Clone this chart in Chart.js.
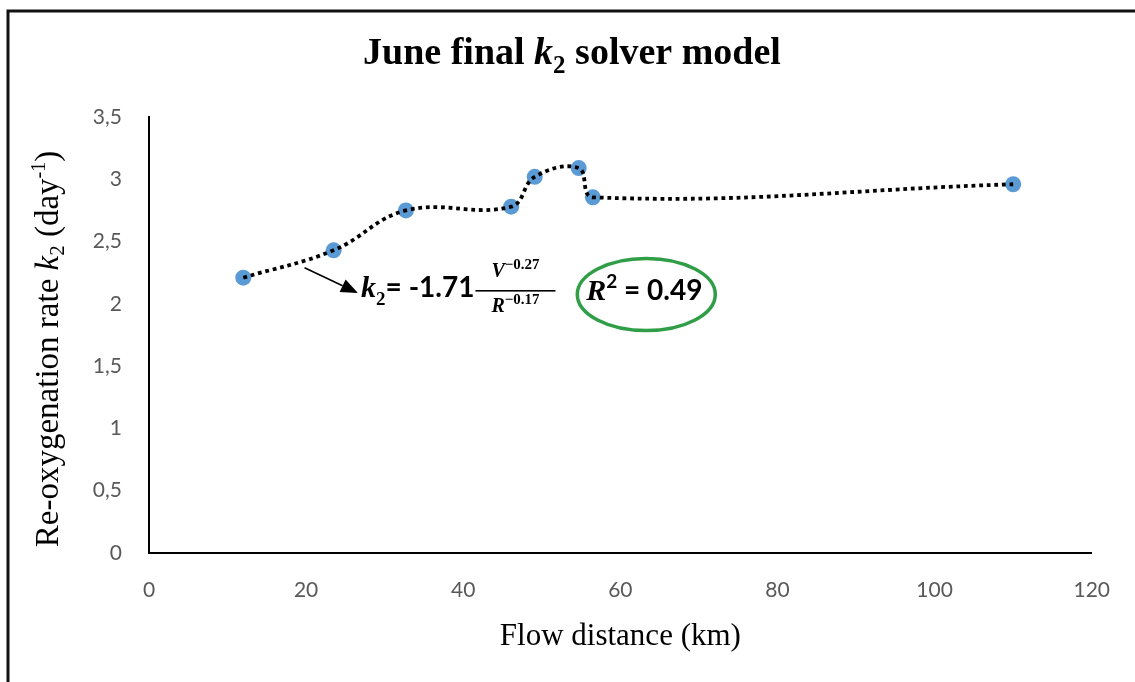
<!DOCTYPE html>
<html>
<head>
<meta charset="utf-8">
<script src="https://cdn.jsdelivr.net/npm/chart.js@4.4.0/dist/chart.umd.min.js"></script>
<style>
  html, body { margin: 0; padding: 0; background: #fff; }
  #wrap { width: 1135px; height: 682px; }
</style>
</head>
<body>
<div id="wrap"><canvas id="k2chart" width="1135" height="682"></canvas></div>
<script>
// June final k2 solver model — flow distance vs re-oxygenation rate

const distanceKm = [12.0, 23.5, 32.7, 46.1, 49.1, 54.7, 56.5, 110.0];
const k2Rate     = [2.21, 2.43, 2.75, 2.78, 3.02, 3.09, 2.855, 2.96];
const xRange = [0, 120];
const yRange = [0, 3.5];

// annotation anchors, in data units
const arrowFrom = { x: 19.8, y: 2.29 };
const arrowTo   = { x: 26.6, y: 2.087 };
const eqStart   = { x: 27.0, y: 2.055 };
const r2Centre  = { x: 63.3, y: 2.075 };

const SERIF = '"Liberation Serif", "Times New Roman", serif';
const SANS  = 'Lato, "Open Sans", sans-serif';

const points = distanceKm.map((x, i) => ({ x, y: k2Rate[i] }));

// draws a row of [text, font, dy] pieces, returns its width
function drawRuns(ctx, runs, x, y, align) {
  let w = 0;
  runs.forEach(r => { ctx.font = r[1]; w += ctx.measureText(r[0]).width; });
  let cx = align === 'center' ? x - w / 2 : x;
  runs.forEach(r => {
    ctx.font = r[1];
    ctx.fillText(r[0], cx, y + (r[2] || 0));
    cx += ctx.measureText(r[0]).width;
  });
  return w;
}

const framePlugin = {
  id: 'frame',
  beforeDraw(chart) {
    const ctx = chart.ctx;
    ctx.save();
    ctx.fillStyle = '#fff';
    ctx.fillRect(0, 0, chart.width, chart.height);
    ctx.strokeStyle = '#111';
    ctx.lineWidth = 3;
    ctx.beginPath();
    ctx.moveTo(8, chart.height);
    ctx.lineTo(8, 11);
    ctx.lineTo(chart.width, 11);
    ctx.stroke();
    ctx.restore();
  },
};

const textPlugin = {
  id: 'texts',
  afterDraw(chart) {
    const ctx = chart.ctx;
    const sx = chart.scales.x, sy = chart.scales.y;
    const px = p => [sx.getPixelForValue(p.x), sy.getPixelForValue(p.y)];
    ctx.save();
    ctx.fillStyle = '#000';
    ctx.textBaseline = 'alphabetic';

    // title
    drawRuns(ctx, [
      ['June final ', 'bold 38px ' + SERIF],
      ['k', 'italic bold 38px ' + SERIF],
      ['2', 'bold 25px ' + SERIF, 9],
      [' solver model', 'bold 38px ' + SERIF],
    ], 572, 64, 'center');

    // y axis title
    ctx.save();
    ctx.translate(58, 349);
    ctx.rotate(-Math.PI / 2);
    drawRuns(ctx, [
      ['Re-oxygenation rate ', '33px ' + SERIF],
      ['k', 'italic 33px ' + SERIF],
      ['2', '21px ' + SERIF, 6],
      [' (day', '33px ' + SERIF],
      ['-1', '20px ' + SERIF, -13],
      [')', '33px ' + SERIF],
    ], 0, 0, 'center');
    ctx.restore();

    // arrow to the formula
    const [ax0, ay0] = px(arrowFrom), [ax1, ay1] = px(arrowTo);
    const ang = Math.atan2(ay1 - ay0, ax1 - ax0);
    const hl = 17, hw = 14;
    ctx.strokeStyle = '#000';
    ctx.lineWidth = 1.5;
    ctx.beginPath();
    ctx.moveTo(ax0, ay0);
    ctx.lineTo(ax1 - hl * Math.cos(ang), ay1 - hl * Math.sin(ang));
    ctx.stroke();
    ctx.beginPath();
    ctx.moveTo(ax1, ay1);
    ctx.lineTo(ax1 - hl * Math.cos(ang) - hw / 2 * Math.sin(ang), ay1 - hl * Math.sin(ang) + hw / 2 * Math.cos(ang));
    ctx.lineTo(ax1 - hl * Math.cos(ang) + hw / 2 * Math.sin(ang), ay1 - hl * Math.sin(ang) - hw / 2 * Math.cos(ang));
    ctx.closePath();
    ctx.fill();

    // k2 = -1.71 V^-0.27 / R^-0.17
    const [ex, eb] = px(eqStart);
    let w = drawRuns(ctx, [
      ['k', 'italic bold 30px ' + SERIF],
      ['2', 'bold 19px ' + SERIF, 8],
      ['= -1.71', 'bold 28px ' + SANS],
    ], ex, eb);
    const fx0 = ex + w + 1, fx1 = fx0 + 80, fmid = (fx0 + fx1) / 2;
    ctx.fillRect(fx0, eb - 7, fx1 - fx0, 1.6);
    drawRuns(ctx, [
      ['V', 'italic bold 20px ' + SERIF],
      ['\u22120.27', 'bold 15px ' + SERIF, -8],
    ], fmid, eb - 20, 'center');
    drawRuns(ctx, [
      ['R', 'italic bold 20px ' + SERIF],
      ['\u22120.17', 'bold 15px ' + SERIF, -8],
    ], fmid, eb + 15, 'center');

    // R^2 = 0.49 in the green ring
    const [rx, ry] = px(r2Centre);
    drawRuns(ctx, [
      ['R', 'italic bold 30px ' + SERIF],
      ['2', 'bold 19px ' + SANS, -12],
      [' = 0.49', 'bold 28px ' + SANS],
    ], rx - 2, ry + 5, 'center');
    ctx.strokeStyle = '#2f9e47';
    ctx.lineWidth = 3.5;
    ctx.beginPath();
    ctx.ellipse(rx, ry, 69, 36, 0, 0, Math.PI * 2);
    ctx.stroke();

    ctx.restore();
  },
};

new Chart(document.getElementById('k2chart'), {
  type: 'scatter',
  data: {
    datasets: [
      {
        label: 'k2 trend',
        data: points,
        showLine: true,
        borderColor: '#000',
        borderWidth: 3.8,
        borderDash: [3.8, 3.8],
        tension: 0.4,
        pointRadius: 0,
        order: 1,
      },
      {
        label: 'k2',
        data: points,
        backgroundColor: '#5b9bd5',
        borderWidth: 0,
        pointRadius: 8,
        order: 2,
      },
    ],
  },
  options: {
    responsive: false,
    animation: false,
    devicePixelRatio: 1,
    layout: { padding: { top: 117, right: 42, left: 0, bottom: 0 } },
    plugins: { legend: { display: false }, tooltip: { enabled: false } },
    scales: {
      x: {
        type: 'linear',
        min: xRange[0], max: xRange[1],
        afterFit: s => { s.height = 129; },
        ticks: { stepSize: 20, color: '#595959', padding: 25, font: { family: SANS, size: 21 } },
        grid: { drawOnChartArea: false, drawTicks: false },
        border: { color: '#000', width: 2 },
        title: {
          display: true, text: 'Flow distance (km)', color: '#000',
          font: { family: SERIF, size: 31 }, padding: { top: 0, bottom: 27 },
        },
      },
      y: {
        min: yRange[0], max: yRange[1],
        afterFit: s => { s.width = 149; },
        ticks: {
          stepSize: 0.5, color: '#595959', padding: 27,
          font: { family: SANS, size: 21 },
          callback: v => String(v).replace('.', ','),
        },
        grid: { drawOnChartArea: false, drawTicks: false },
        border: { color: '#000', width: 2 },
      },
    },
  },
  plugins: [framePlugin, textPlugin],
});
</script>
</body>
</html>
